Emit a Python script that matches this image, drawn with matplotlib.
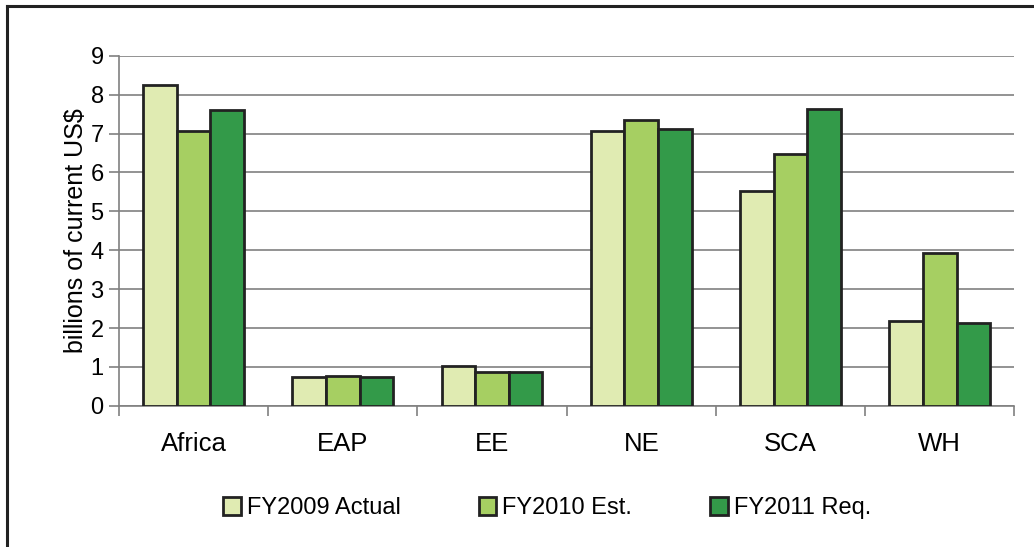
import matplotlib.pyplot as plt
import numpy as np
from matplotlib.lines import Line2D

plt.rcParams['font.family'] = ['Liberation Sans', 'DejaVu Sans']

regions = ["Africa", "EAP", "EE", "NE", "SCA", "WH"]
fy2009 = [8.24, 0.75, 1.02, 7.06, 5.53, 2.17]
fy2010 = [7.07, 0.78, 0.86, 7.35, 6.48, 3.94]
fy2011 = [7.61, 0.75, 0.87, 7.11, 7.62, 2.14]
series_names = ["FY2009 Actual", "FY2010 Est.", "FY2011 Req."]
colors = ["#e0ebb2", "#a6cf62", "#339a49"]

fig = plt.figure(figsize=(10.34, 5.47), dpi=100)
ax = fig.add_axes([0.115, 0.258, 0.866, 0.64])

x = np.arange(len(regions))
w = 0.225
for i, (vals, name, c) in enumerate(zip([fy2009, fy2010, fy2011], series_names, colors)):
    ax.bar(x + (i - 1) * w, vals, w, color=c, edgecolor="#222222", linewidth=2,
           label=name, zorder=3)

ax.set_xlim(-0.5, len(regions) - 0.5)
ax.set_ylim(0, 9)
ax.set_yticks(range(0, 10))
ax.yaxis.grid(True, color="#808080", linewidth=1.2, zorder=0)
ax.set_xticks(np.arange(-0.5, len(regions), 1.0))
ax.set_xticklabels([])
ax.set_xticks(x, minor=True)
ax.set_xticklabels(regions, minor=True, fontsize=18.5)
ax.tick_params(axis="x", which="minor", length=0, pad=19)
ax.tick_params(axis="x", which="major", length=7, color="#808080", width=1.2)
ax.tick_params(axis="y", length=7, color="#808080", width=1.2, labelsize=17, pad=4)
for s in ["top", "right"]:
    ax.spines[s].set_visible(False)
for s in ["left", "bottom"]:
    ax.spines[s].set_color("#808080")
    ax.spines[s].set_linewidth(1.2)
ax.set_ylabel("billions of current US$", fontsize=18, labelpad=2)

handles = [plt.Rectangle((0, 0), 1, 1, facecolor=c, edgecolor="#222222", linewidth=2)
           for c in colors]
fig.legend(handles, series_names, loc="center", bbox_to_anchor=(0.529, 0.071), ncol=3,
           frameon=False, fontsize=17, handlelength=0.75, handleheight=0.75,
           handletextpad=0.25, columnspacing=3.3)

# outer frame (left and top edges visible)
fig.add_artist(Line2D([7 / 1034, 7 / 1034], [0, 1 - 6 / 547], color="#222222", linewidth=2.2))
fig.add_artist(Line2D([7 / 1034, 1], [1 - 6 / 547, 1 - 6 / 547], color="#222222", linewidth=2.2))

fig.savefig("out.png", dpi=100)
